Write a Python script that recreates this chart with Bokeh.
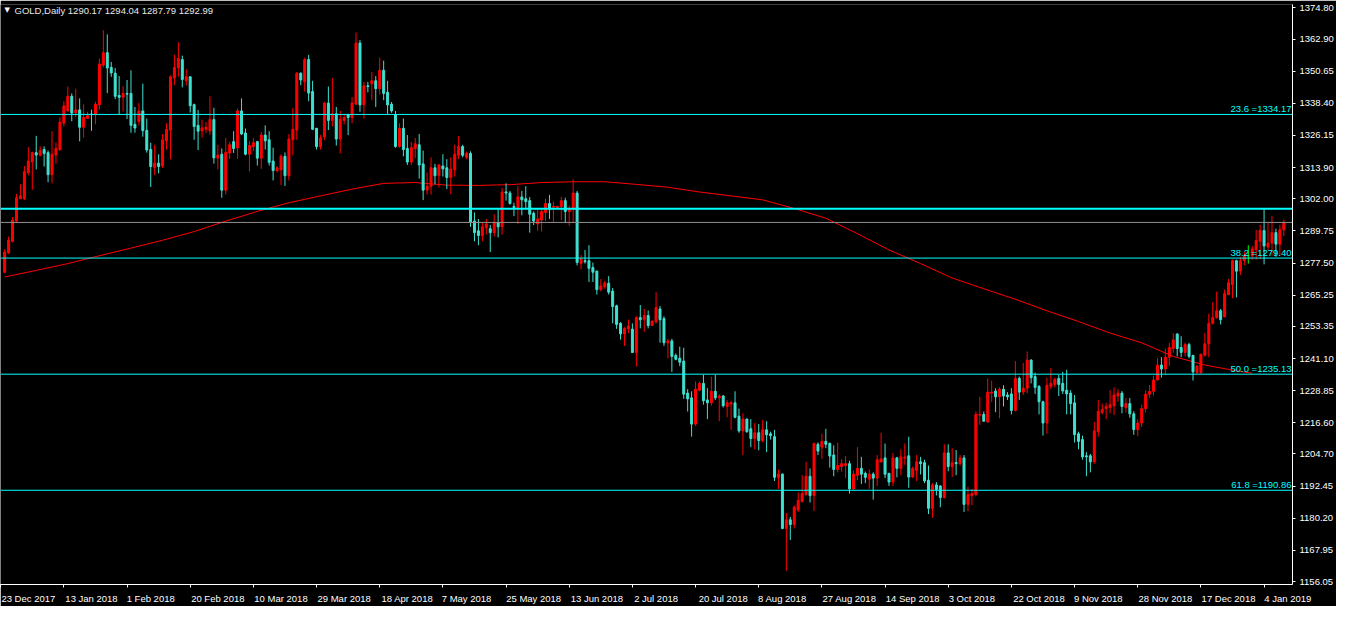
from bokeh.plotting import figure
from bokeh.models import Span, Label, FixedTicker, NumeralTickFormatter, Range1d, ColumnDataSource
from bokeh.embed import file_html
from bokeh.resources import INLINE

symbol = "GOLD,Daily"

opens = [
1274.0,1281.4,1285.8,1293.5,1302.0,1302.0,1312.0,1316.1,1319.6,1318.6,
1320.8,1319.6,1311.2,1318.7,1320.8,1330.9,1335.5,1341.1,1334.8,1335.9,
1329.3,1332.7,1334.3,1334.2,1337.9,1353.0,1357.7,1352.1,1349.9,1341.4,
1340.7,1342.2,1342.2,1330.4,1331.5,1335.5,1328.1,1320.8,1313.9,1315.6,
1314.5,1324.1,1328.2,1348.1,1351.9,1355.1,1347.0,1348.5,1337.9,1330.0,
1327.9,1328.5,1327.9,1332.2,1317.5,1319.0,1305.3,1319.5,1323.8,1321.4,
1335.5,1327.1,1319.0,1321.9,1323.8,1317.5,1326.3,1324.5,1316.4,1312.7,
1313.1,1318.2,1310.8,1324.5,1328.2,1349.9,1346.6,1355.1,1342.9,1328.9,
1321.9,1325.6,1338.5,1331.9,1334.4,1324.8,1331.9,1334.1,1333.0,1338.1,
1361.4,1337.8,1345.1,1345.9,1347.0,1344.0,1351.0,1342.6,1338.1,1334.1,
1321.9,1328.9,1321.2,1316.0,1321.2,1322.6,1315.3,1305.3,1306.8,1313.8,
1310.8,1314.5,1313.8,1310.1,1313.1,1318.6,1321.9,1317.8,1319.3,1293.5,
1289.8,1288.0,1291.0,1290.6,1289.1,1292.8,1291.3,1304.6,1304.2,1299.1,
1298.7,1302.7,1302.0,1301.3,1296.5,1292.4,1293.9,1296.8,1300.2,1298.8,
1298.7,1299.1,1301.3,1297.2,1298.0,1304.2,1277.3,1278.4,1278.4,1275.8,
1274.4,1267.4,1268.5,1269.8,1266.8,1261.2,1254.5,1250.5,1252.4,1252.3,
1243.4,1256.7,1255.9,1257.5,1253.7,1255.1,1260.0,1256.3,1247.1,1247.8,
1242.3,1241.2,1240.1,1227.9,1226.1,1216.1,1229.0,1231.6,1225.3,1224.2,
1228.6,1226.1,1226.8,1222.8,1223.8,1224.2,1219.1,1213.5,1218.0,1214.3,
1210.6,1212.8,1209.8,1213.9,1212.4,1211.3,1195.8,1197.0,1176.3,1179.6,
1177.8,1183.3,1186.6,1189.2,1196.2,1188.8,1208.4,1207.3,1209.5,1208.7,
1204.3,1198.8,1199.9,1200.3,1201.0,1191.4,1196.6,1199.2,1197.3,1195.1,
1197.0,1195.5,1201.7,1203.2,1197.3,1194.0,1203.2,1199.2,1203.2,1204.0,
1195.9,1198.4,1201.7,1201.4,1194.7,1184.0,1192.9,1192.5,1188.1,1205.1,
1199.9,1201.4,1201.0,1203.2,1185.5,1188.8,1189.2,1219.5,1219.8,1216.9,
1227.9,1228.7,1226.5,1229.4,1227.2,1227.6,1221.3,1233.5,1228.3,1229.8,
1240.5,1234.2,1230.5,1224.6,1216.5,1230.5,1231.2,1233.5,1231.6,1229.0,
1227.9,1224.2,1212.4,1210.2,1204.0,1204.0,1201.7,1213.2,1220.6,1222.0,
1222.4,1223.1,1226.8,1227.9,1222.4,1223.9,1220.0,1214.0,1216.5,1222.0,
1227.5,1228.6,1232.9,1238.6,1237.1,1241.6,1244.9,1250.4,1245.3,1243.4,
1246.4,1242.3,1235.7,1235.7,1242.3,1246.7,1254.5,1256.7,1259.3,1257.0,
1265.5,1269.2,1278.4,1274.4,1278.4,1280.3,1280.3,1282.5,1285.8,1289.9,
1283.6,1285.1,1289.1,1284.7,1290.17]

highs = [
1282.8,1287.6,1295.0,1303.8,1307.5,1314.5,1321.7,1320.0,1326.0,1322.0,
1322.0,1320.4,1327.8,1323.5,1333.0,1339.2,1344.8,1342.2,1344.0,1340.3,
1338.0,1335.2,1336.0,1339.0,1355.5,1366.3,1364.7,1354.2,1351.9,1348.8,
1344.9,1347.3,1351.0,1337.0,1338.5,1345.9,1332.6,1323.4,1322.6,1319.0,
1326.7,1330.8,1349.1,1356.9,1361.7,1356.6,1351.4,1348.8,1338.3,1335.9,
1332.2,1331.2,1341.1,1336.7,1322.6,1321.2,1325.2,1323.8,1327.8,1336.4,
1340.3,1328.8,1324.1,1325.2,1324.1,1327.5,1330.0,1327.8,1321.5,1314.5,
1319.0,1319.7,1326.7,1336.6,1350.3,1350.2,1355.8,1356.9,1347.0,1329.0,
1326.3,1338.9,1344.8,1348.1,1337.0,1335.5,1334.4,1334.4,1340.7,1365.4,
1362.5,1346.6,1346.6,1350.3,1348.8,1355.8,1354.7,1347.0,1338.9,1335.5,
1330.8,1332.6,1326.3,1323.7,1325.2,1326.7,1320.4,1312.0,1317.8,1315.3,
1315.3,1319.0,1317.1,1317.8,1322.6,1326.0,1322.6,1320.0,1320.1,1296.8,
1294.3,1292.8,1294.3,1292.0,1296.1,1298.0,1306.1,1307.9,1305.0,1300.5,
1306.8,1305.0,1306.8,1302.7,1297.2,1298.0,1298.0,1302.0,1303.5,1300.9,
1299.4,1302.7,1302.4,1299.4,1309.4,1305.0,1280.6,1282.5,1284.3,1277.7,
1274.7,1271.4,1270.7,1272.5,1268.0,1261.6,1255.0,1253.0,1255.9,1254.5,
1257.2,1261.5,1260.0,1259.4,1255.7,1266.4,1261.1,1257.2,1248.6,1248.6,
1243.0,1245.6,1245.2,1229.4,1228.6,1232.3,1232.3,1234.9,1229.8,1234.2,
1234.9,1227.5,1227.2,1225.3,1225.0,1228.6,1222.0,1220.2,1218.3,1218.0,
1216.5,1216.1,1217.6,1217.2,1213.2,1213.9,1198.8,1197.3,1182.2,1180.7,
1185.1,1190.0,1196.6,1201.7,1199.2,1209.0,1209.1,1212.4,1214.3,1209.1,
1208.0,1209.1,1202.8,1203.9,1202.1,1198.4,1207.3,1203.6,1198.0,1198.8,
1197.7,1204.3,1212.8,1208.7,1197.5,1205.1,1203.6,1206.5,1208.7,1211.3,
1199.9,1204.3,1203.6,1202.5,1200.3,1193.6,1194.0,1192.8,1208.4,1208.4,
1206.9,1206.2,1204.3,1204.3,1192.2,1191.4,1220.9,1226.5,1220.9,1233.5,
1232.7,1229.8,1230.1,1230.9,1228.3,1229.8,1240.1,1234.2,1239.4,1243.8,
1240.8,1235.7,1230.9,1225.0,1233.8,1237.5,1233.8,1234.9,1236.0,1236.8,
1229.0,1227.2,1213.2,1211.7,1205.4,1204.7,1216.9,1225.3,1223.9,1224.2,
1229.0,1230.1,1229.4,1228.7,1226.0,1226.0,1221.0,1218.0,1223.5,1229.0,
1231.0,1234.6,1241.3,1241.6,1244.9,1247.1,1250.8,1250.8,1249.6,1247.1,
1247.1,1242.5,1238.6,1243.0,1250.8,1258.2,1262.6,1266.6,1260.0,1267.4,
1271.4,1278.8,1278.8,1279.9,1281.8,1284.3,1284.0,1290.1,1292.1,1298.0,
1292.8,1295.4,1290.6,1292.1,1294.04]

lows = [
1273.6,1281.0,1285.4,1293.2,1302.0,1301.5,1311.0,1305.4,1313.2,1318.1,
1314.3,1308.3,1307.9,1315.4,1320.2,1329.6,1335.3,1331.6,1333.1,1323.9,
1325.3,1332.4,1327.9,1330.4,1336.0,1352.1,1342.3,1348.5,1340.0,1334.1,
1335.3,1332.4,1327.2,1327.2,1330.0,1325.7,1319.6,1306.5,1311.0,1311.7,
1313.8,1320.8,1317.1,1345.4,1348.5,1344.5,1345.2,1334.9,1324.5,1320.6,
1325.3,1327.1,1326.3,1315.4,1313.2,1302.4,1303.6,1317.2,1319.5,1317.3,
1326.3,1318.6,1312.4,1320.3,1314.7,1313.4,1320.8,1314.7,1309.0,1312.1,
1307.3,1306.9,1309.0,1318.6,1324.5,1345.3,1342.9,1339.2,1328.2,1320.8,
1320.8,1324.5,1328.2,1329.6,1322.3,1319.3,1330.4,1326.3,1330.8,1337.8,
1335.2,1332.6,1342.6,1339.6,1337.0,1341.8,1339.6,1334.4,1334.8,1321.5,
1321.5,1318.2,1314.9,1314.9,1317.5,1309.7,1301.5,1303.6,1303.6,1307.5,
1306.4,1310.5,1305.7,1303.8,1310.5,1317.1,1317.8,1317.1,1291.3,1285.8,
1284.3,1285.8,1288.4,1281.7,1287.6,1287.3,1288.4,1301.3,1299.8,1295.4,
1292.4,1295.7,1298.0,1289.1,1292.0,1289.8,1289.5,1293.5,1294.3,1293.2,
1298.5,1293.9,1292.8,1291.7,1292.8,1276.6,1275.1,1277.3,1270.3,1270.3,
1265.5,1266.7,1267.7,1265.5,1254.5,1252.4,1248.3,1245.9,1250.8,1243.2,
1238.0,1252.6,1251.2,1252.6,1253.5,1254.5,1247.1,1245.9,1241.2,1236.0,
1240.4,1238.2,1225.7,1220.9,1211.3,1215.4,1228.6,1223.5,1218.0,1223.1,
1225.3,1217.2,1222.4,1218.7,1213.9,1218.3,1212.8,1204.3,1212.8,1207.3,
1206.5,1206.1,1209.1,1205.4,1210.2,1194.4,1191.4,1176.0,1160.1,1171.9,
1176.3,1182.6,1186.2,1188.8,1186.2,1183.0,1204.3,1202.8,1206.9,1199.5,
1196.2,1197.7,1198.0,1195.5,1189.6,1191.0,1194.7,1193.3,1193.6,1191.4,
1187.3,1192.5,1201.4,1195.5,1192.5,1192.5,1195.8,1196.6,1200.6,1191.8,
1195.6,1194.4,1196.9,1193.6,1181.8,1180.4,1188.9,1184.4,1187.7,1198.1,
1195.9,1196.6,1200.3,1182.6,1182.9,1185.2,1188.5,1215.8,1217.0,1216.6,
1224.6,1220.6,1218.3,1222.8,1225.3,1219.8,1220.9,1225.3,1227.2,1227.9,
1231.6,1227.6,1219.8,1211.7,1212.4,1229.4,1230.1,1226.8,1227.6,1219.8,
1219.8,1209.1,1206.5,1202.5,1196.2,1197.7,1201.0,1211.3,1219.8,1218.0,
1220.2,1219.5,1224.6,1220.2,1220.5,1218.5,1212.0,1211.5,1215.0,1220.5,
1226.0,1227.0,1232.7,1233.8,1234.8,1238.2,1243.4,1241.9,1241.6,1241.9,
1241.2,1232.7,1235.4,1235.3,1241.9,1241.6,1254.1,1256.3,1254.1,1256.8,
1265.2,1264.1,1264.4,1272.9,1276.6,1277.3,1278.8,1278.8,1279.0,1277.0,
1282.5,1280.3,1279.9,1280.3,1287.79]

closes = [
1281.7,1286.2,1293.9,1302.4,1303.1,1312.3,1316.4,1319.6,1318.7,1320.4,
1319.3,1311.2,1319.0,1321.2,1331.2,1337.4,1341.1,1334.7,1335.9,1329.3,
1333.0,1333.7,1334.1,1338.1,1353.4,1357.7,1351.9,1350.0,1341.1,1340.7,
1342.2,1341.9,1330.0,1329.0,1335.5,1328.0,1320.6,1314.3,1315.6,1314.3,
1324.5,1328.5,1348.5,1352.1,1355.5,1347.5,1348.5,1337.5,1329.6,1327.8,
1329.0,1329.3,1332.2,1317.6,1318.7,1305.3,1319.7,1322.6,1321.2,1335.5,
1326.7,1319.0,1322.3,1323.4,1317.5,1326.3,1324.1,1315.9,1312.8,1313.8,
1318.2,1310.8,1324.8,1328.5,1349.9,1347.3,1355.1,1342.3,1328.5,1321.9,
1325.2,1338.5,1331.9,1334.4,1324.8,1332.2,1333.0,1333.0,1338.5,1361.4,
1337.8,1345.1,1344.8,1347.0,1344.0,1351.0,1342.2,1337.8,1335.5,1321.9,
1328.9,1320.8,1316.0,1321.5,1323.0,1314.9,1305.3,1306.8,1313.8,1310.8,
1314.9,1313.4,1310.1,1313.4,1319.0,1321.9,1318.6,1319.3,1293.2,1289.1,
1288.0,1291.3,1292.4,1289.1,1292.8,1291.3,1304.6,1304.2,1300.2,1298.7,
1302.7,1301.6,1300.9,1296.1,1293.5,1294.3,1297.2,1300.2,1298.0,1299.1,
1299.1,1301.3,1297.2,1298.0,1304.2,1277.7,1279.1,1278.0,1275.5,1274.0,
1267.4,1268.8,1269.9,1266.4,1260.9,1254.1,1250.5,1252.6,1253.5,1243.4,
1256.7,1255.9,1257.5,1253.7,1255.3,1260.5,1255.9,1247.1,1247.8,1241.9,
1240.8,1239.7,1227.5,1225.7,1216.1,1229.4,1231.6,1225.0,1224.2,1228.6,
1226.1,1226.8,1223.1,1224.2,1224.2,1218.7,1213.5,1218.0,1213.2,1210.6,
1212.8,1209.8,1213.9,1212.0,1211.7,1195.8,1197.0,1176.3,1179.6,1177.8,
1184.4,1187.0,1189.6,1196.2,1188.8,1208.7,1205.8,1209.5,1208.4,1203.9,
1198.8,1200.3,1201.0,1201.0,1191.4,1197.0,1199.2,1197.0,1195.8,1197.0,
1195.5,1202.5,1202.8,1197.0,1194.0,1203.2,1199.2,1203.6,1203.6,1195.9,
1199.2,1201.7,1201.0,1194.4,1184.0,1192.9,1191.1,1188.1,1205.1,1199.9,
1201.4,1201.0,1203.2,1185.5,1189.2,1189.6,1219.8,1219.8,1217.2,1228.3,
1228.3,1226.5,1229.4,1226.8,1226.5,1221.3,1233.5,1228.3,1229.8,1240.5,
1233.8,1230.1,1224.6,1216.5,1230.9,1231.6,1233.1,1231.2,1228.7,1227.6,
1223.9,1212.1,1209.5,1203.6,1203.6,1201.7,1213.5,1220.9,1221.7,1222.8,
1223.5,1227.2,1227.9,1222.8,1223.9,1220.0,1214.0,1216.5,1222.0,1227.5,
1228.5,1232.9,1238.6,1237.1,1241.6,1245.3,1248.2,1244.9,1243.4,1246.4,
1241.9,1236.0,1238.2,1242.7,1246.7,1254.5,1256.7,1259.3,1255.9,1265.9,
1270.0,1278.4,1274.4,1278.4,1280.6,1280.3,1282.9,1286.2,1289.9,1284.0,
1285.1,1289.1,1284.7,1290.2,1292.99]

# moving average (read every 8 bars)
ma_bars = [0,8,16,24,32,40,48,56,64,72,80,88,96,104,112,120,128,136,144,152,160,
           168,176,184,192,200,208,216,224,232,240,248,256,264,272,280,288,296,304,312,316]
ma_values = [1272.2,1274.7,1277.3,1280.3,1283.2,1286.2,1289.5,1293.5,1297.2,1300.5,1303.1,
             1305.7,1307.9,1308.2,1307.2,1307.1,1307.4,1308.2,1308.5,1308.5,1307.5,1306.4,
             1304.6,1303.1,1301.6,1298.3,1294.6,1288.7,1282.5,1277.3,1271.8,1267.7,1263.7,
             1259.3,1255.2,1250.8,1247.1,1241.9,1238.6,1236.4,1235.5]

fib_pcts = ["23.6", "38.2", "50.0", "61.8"]
fib_prices = [1334.17, 1279.40, 1235.13, 1190.86]
level_price = 1298.20

y_ticks = [1374.80,1362.90,1350.65,1338.40,1326.15,1313.90,1302.00,1289.75,1277.50,1265.25,
           1253.35,1241.10,1228.85,1216.60,1204.70,1192.45,1180.20,1167.95,1156.05]

date_labels = ["23 Dec 2017","13 Jan 2018","1 Feb 2018","20 Feb 2018","10 Mar 2018","29 Mar 2018",
               "18 Apr 2018","7 May 2018","25 May 2018","13 Jun 2018","2 Jul 2018","20 Jul 2018",
               "8 Aug 2018","27 Aug 2018","14 Sep 2018","3 Oct 2018","22 Oct 2018","9 Nov 2018",
               "28 Nov 2018","17 Dec 2018","4 Jan 2019"]

UP = "#ff0000"
DOWN = "#40e0d0"
DOJI = "#00ff00"
CYAN = "#00ffff"
FONT = "Liberation Sans"
FS = "9.5px"

n = len(closes)
xs = list(range(n))
cols = [UP if c > o else (DOWN if c < o else DOJI) for o, c in zip(opens, closes)]
src = ColumnDataSource(dict(x=xs, o=opens, h=highs, l=lows, c=closes,
                            top=[max(o, c) for o, c in zip(opens, closes)],
                            bot=[min(o, c) for o, c in zip(opens, closes)],
                            col=cols))

x0, x1 = -1.05, 326.2
y0, y1 = 1154.93, 1376.09

p = figure(width=1336, height=606, output_backend="svg", toolbar_location=None,
           x_range=Range1d(x0, x1), y_range=Range1d(y0, y1), y_axis_location="right",
           background_fill_color="black", border_fill_color="black",
           min_border_left=0, min_border_top=4, min_border_right=0, min_border_bottom=20,
           outline_line_color=None)
p.grid.visible = False

# Fibonacci / level lines
for pct, lvl in zip(fib_pcts, fib_prices):
    p.add_layout(Span(location=lvl, dimension="width", line_color=CYAN, line_width=1))
    p.add_layout(Label(x=x1, y=lvl, text=f"{pct} ={lvl:.2f}", text_align="right",
                       text_baseline="bottom", x_offset=-1, y_offset=0, text_color=CYAN,
                       text_font=FONT, text_font_size=FS))
p.add_layout(Span(location=level_price, dimension="width", line_color=CYAN, line_width=2))
p.add_layout(Span(location=closes[-1], dimension="width", line_color="#909090", line_width=1))

# moving average
p.line(ma_bars, ma_values, line_color="#ff0000", line_width=1)

# candles
p.segment(x0="x", y0="l", x1="x", y1="h", line_color="col", line_width=1, source=src)
p.vbar(x="x", width=0.5, top="top", bottom="bot", fill_color="col", line_color="col",
       line_width=1, source=src)

# axes
yax = p.yaxis[0]
yax.ticker = FixedTicker(ticks=y_ticks)
yax.formatter = NumeralTickFormatter(format="0.00")
yax.axis_line_color = "white"
yax.major_tick_line_color = "white"
yax.major_tick_out = 3
yax.major_tick_in = 0
yax.minor_tick_line_color = None
yax.major_label_text_color = "white"
yax.major_label_text_font = FONT
yax.major_label_text_font_size = FS
yax.major_label_standoff = 4

xax = p.xaxis[0]
tick_bars = [16 * k - 1 for k in range(len(date_labels))]
centers = [t + round((len(lab) * 4.6 / 2 + 1.5) / 3.96) for t, lab in zip(tick_bars, date_labels)]
xax.ticker = FixedTicker(ticks=centers, minor_ticks=tick_bars)
xax.major_label_overrides = {c: lab for c, lab in zip(centers, date_labels)}
xax.axis_line_color = "white"
xax.major_tick_out = 0
xax.major_tick_in = 0
xax.major_tick_line_color = None
xax.minor_tick_out = 3
xax.minor_tick_in = 0
xax.minor_tick_line_color = "white"
xax.major_label_text_color = "white"
xax.major_label_text_font = FONT
xax.major_label_text_font_size = FS
xax.major_label_standoff = 5

# price tags on the axis
p.add_layout(Label(x=x1, y=level_price, text=f" {level_price:.2f}    ", text_align="left",
                   text_baseline="middle", x_offset=1, text_color="black",
                   background_fill_color=CYAN, text_font=FONT, text_font_size=FS))
p.add_layout(Label(x=x1, y=closes[-1], text=f" {closes[-1]:.2f}    ", text_align="left",
                   text_baseline="middle", x_offset=1, text_color="black",
                   background_fill_color="white", text_font=FONT, text_font_size=FS))

# header
header = f"{symbol}  {opens[-1]:.2f} {highs[-1]:.2f} {lows[-1]:.2f} {closes[-1]:.2f}"
p.add_layout(Label(x=x0, y=y1, text="\u25BC", x_offset=4, y_offset=-1, text_baseline="top",
                   text_color="white", text_font="DejaVu Sans", text_font_size="7px"))
p.add_layout(Label(x=x0, y=y1, text=header, x_offset=14, y_offset=0, text_baseline="top",
                   text_color="#e8e8e8", text_font=FONT, text_font_size=FS))

open("out.html", "w").write(file_html(p, INLINE))
